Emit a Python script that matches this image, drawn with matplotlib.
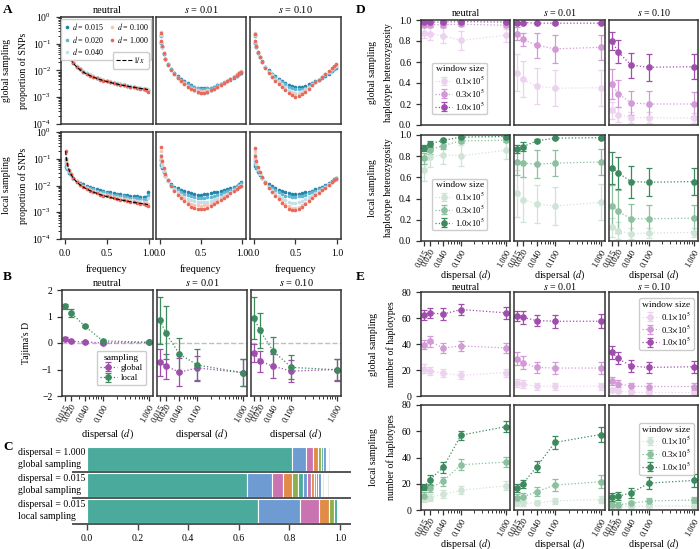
import numpy as np
import matplotlib
matplotlib.use("Agg")
import matplotlib.pyplot as plt
from matplotlib.ticker import FixedLocator, FixedFormatter, LogLocator, NullFormatter

# ---------------------------------------------------------------- data
FREQ = [0.01, 0.02, 0.03, 0.05, 0.07, 0.10, 0.14, 0.18, 0.22, 0.26, 0.30, 0.34, 0.38, 0.42, 0.46,
        0.50, 0.54, 0.58, 0.62, 0.66, 0.70, 0.74, 0.78, 0.82, 0.86, 0.90, 0.94, 0.97, 0.99]
D_LABELS_A = ["0.015", "0.020", "0.040", "0.100", "1.000"]

# global sampling, neutral
GN_0015 = [0.17, 0.094, 0.064, 0.039, 0.028, 0.0195, 0.014, 0.011, 0.0090, 0.0076, 0.0066, 0.0058, 0.0052, 0.0047, 0.0043, 0.0040, 0.0037, 0.0034, 0.0032, 0.0030, 0.0028, 0.0026, 0.0025, 0.0024, 0.0023, 0.0022, 0.0021, 0.0020, 0.0018]
GN_0020 = [0.16, 0.093, 0.065, 0.040, 0.029, 0.020, 0.0145, 0.0113, 0.0093, 0.0078, 0.0068, 0.0060, 0.0054, 0.0048, 0.0044, 0.0041, 0.0038, 0.0035, 0.0033, 0.0031, 0.0029, 0.0027, 0.0026, 0.0025, 0.0023, 0.0022, 0.0021, 0.0020, 0.0018]
GN_0040 = [0.17, 0.094, 0.066, 0.041, 0.030, 0.021, 0.015, 0.012, 0.0097, 0.0082, 0.0071, 0.0062, 0.0056, 0.0050, 0.0046, 0.0042, 0.0039, 0.0036, 0.0034, 0.0032, 0.0030, 0.0028, 0.0027, 0.0025, 0.0024, 0.0023, 0.0022, 0.0021, 0.0019]
GN_0100 = [0.18, 0.095, 0.065, 0.039, 0.028, 0.020, 0.014, 0.011, 0.0090, 0.0076, 0.0066, 0.0058, 0.0052, 0.0047, 0.0043, 0.0040, 0.0037, 0.0034, 0.0032, 0.0030, 0.0028, 0.0027, 0.0025, 0.0024, 0.0023, 0.0022, 0.0021, 0.0020, 0.0017]
GN_1000 = [0.19, 0.096, 0.064, 0.039, 0.028, 0.019, 0.014, 0.011, 0.0088, 0.0074, 0.0064, 0.0057, 0.0051, 0.0046, 0.0042, 0.0039, 0.0036, 0.0033, 0.0031, 0.0029, 0.0028, 0.0026, 0.0025, 0.0024, 0.0022, 0.0021, 0.0020, 0.0019, 0.0016]

# global sampling, s = 0.01
G1_0015 = [0.21, 0.11, 0.074, 0.043, 0.028, 0.017, 0.011, 0.0080, 0.0060, 0.0048, 0.0039, 0.0033, 0.0028, 0.0025, 0.0023, 0.0022, 0.0022, 0.0022, 0.0023, 0.0025, 0.0028, 0.0031, 0.0035, 0.0040, 0.0046, 0.0053, 0.0062, 0.0072, 0.0080]
G1_0020 = [0.20, 0.11, 0.075, 0.043, 0.028, 0.017, 0.011, 0.0078, 0.0058, 0.0046, 0.0037, 0.0031, 0.0027, 0.0024, 0.0022, 0.0021, 0.0021, 0.0022, 0.0023, 0.0025, 0.0028, 0.0032, 0.0036, 0.0041, 0.0048, 0.0056, 0.0065, 0.0075, 0.0085]
G1_0040 = [0.22, 0.12, 0.078, 0.044, 0.028, 0.016, 0.010, 0.0072, 0.0053, 0.0041, 0.0032, 0.0025, 0.0020, 0.0017, 0.0015, 0.0014, 0.0014, 0.0015, 0.0017, 0.0020, 0.0024, 0.0029, 0.0035, 0.0042, 0.0050, 0.0060, 0.0072, 0.0085, 0.0095]
G1_0100 = [0.27, 0.13, 0.080, 0.045, 0.028, 0.016, 0.0102, 0.0073, 0.0054, 0.0042, 0.0034, 0.0027, 0.0023, 0.0020, 0.0018, 0.0017, 0.0017, 0.0018, 0.0019, 0.0021, 0.0025, 0.0029, 0.0035, 0.0041, 0.0049, 0.0059, 0.0071, 0.0082, 0.0092]
G1_1000 = [0.25, 0.126, 0.079, 0.045, 0.028, 0.016, 0.010, 0.0071, 0.0052, 0.0040, 0.0032, 0.0025, 0.0021, 0.0018, 0.0016, 0.0015, 0.0015, 0.0016, 0.0018, 0.0020, 0.0024, 0.0028, 0.0034, 0.0040, 0.0048, 0.0058, 0.0070, 0.0082, 0.0090]

# global sampling, s = 0.10
G2_0015 = [0.21, 0.11, 0.075, 0.046, 0.032, 0.022, 0.014, 0.010, 0.0077, 0.0061, 0.0050, 0.0041, 0.0034, 0.0029, 0.0026, 0.0024, 0.0024, 0.0025, 0.0027, 0.0030, 0.0034, 0.0039, 0.0046, 0.0054, 0.0064, 0.0076, 0.0092, 0.011, 0.012]
G2_0020 = [0.20, 0.11, 0.075, 0.046, 0.031, 0.021, 0.0135, 0.0095, 0.0072, 0.0056, 0.0045, 0.0036, 0.0030, 0.0025, 0.0022, 0.0020, 0.0020, 0.0021, 0.0023, 0.0027, 0.0032, 0.0038, 0.0046, 0.0055, 0.0066, 0.0080, 0.0097, 0.0115, 0.013]
G2_0040 = [0.22, 0.12, 0.080, 0.048, 0.032, 0.021, 0.013, 0.0090, 0.0066, 0.0050, 0.0039, 0.0030, 0.0024, 0.0019, 0.0016, 0.0015, 0.0015, 0.0017, 0.0020, 0.0024, 0.0030, 0.0037, 0.0046, 0.0057, 0.0071, 0.0088, 0.011, 0.013, 0.015]
G2_0100 = [0.25, 0.13, 0.085, 0.050, 0.033, 0.021, 0.0127, 0.0086, 0.0061, 0.0045, 0.0034, 0.0026, 0.0020, 0.0016, 0.0014, 0.0013, 0.0013, 0.0015, 0.0018, 0.0022, 0.0029, 0.0036, 0.0046, 0.0058, 0.0074, 0.0093, 0.0115, 0.014, 0.016]
G2_1000 = [0.24, 0.13, 0.085, 0.050, 0.033, 0.021, 0.0125, 0.0083, 0.0058, 0.0042, 0.0031, 0.0024, 0.0018, 0.0014, 0.0012, 0.0010, 0.0011, 0.0013, 0.0016, 0.0021, 0.0028, 0.0036, 0.0046, 0.0058, 0.0075, 0.0095, 0.012, 0.015, 0.017]

# local sampling, neutral
LN_0015 = [0.07, 0.05, 0.04, 0.030, 0.024, 0.019, 0.015, 0.0125, 0.011, 0.0098, 0.0088, 0.0080, 0.0073, 0.0067, 0.0062, 0.0058, 0.0055, 0.0052, 0.0049, 0.0047, 0.0045, 0.0043, 0.0042, 0.0040, 0.0039, 0.0038, 0.0037, 0.0038, 0.0058]
LN_0020 = [0.08, 0.055, 0.043, 0.031, 0.024, 0.018, 0.014, 0.0115, 0.0098, 0.0087, 0.0078, 0.0071, 0.0064, 0.0059, 0.0055, 0.0051, 0.0048, 0.0045, 0.0043, 0.0041, 0.0039, 0.0037, 0.0035, 0.0034, 0.0033, 0.0032, 0.0031, 0.0031, 0.0045]
LN_0040 = [0.11, 0.07, 0.05, 0.034, 0.025, 0.018, 0.0135, 0.0108, 0.0090, 0.0078, 0.0069, 0.0062, 0.0056, 0.0051, 0.0047, 0.0044, 0.0041, 0.0038, 0.0036, 0.0034, 0.0032, 0.0031, 0.0029, 0.0028, 0.0027, 0.0026, 0.0025, 0.0025, 0.0033]
LN_0100 = [0.17, 0.09, 0.062, 0.038, 0.028, 0.0198, 0.0143, 0.0113, 0.0094, 0.0080, 0.0070, 0.0062, 0.0056, 0.0050, 0.0046, 0.0043, 0.0039, 0.0036, 0.0034, 0.0032, 0.0030, 0.0028, 0.0027, 0.0026, 0.0024, 0.0023, 0.0023, 0.0022, 0.0021]
LN_1000 = [0.19, 0.096, 0.064, 0.0386, 0.0276, 0.0193, 0.0138, 0.0107, 0.0088, 0.0074, 0.0064, 0.0057, 0.0051, 0.0046, 0.0042, 0.0039, 0.0036, 0.0033, 0.0031, 0.0029, 0.0028, 0.0026, 0.0025, 0.0024, 0.0022, 0.0021, 0.0021, 0.0019, 0.0017]

# local sampling, s = 0.01
L1_0015 = [0.09, 0.06, 0.045, 0.031, 0.023, 0.0155, 0.011, 0.0090, 0.0078, 0.0068, 0.0061, 0.0055, 0.0051, 0.0048, 0.0046, 0.0046, 0.0047, 0.0049, 0.0052, 0.0055, 0.0058, 0.0062, 0.0066, 0.0071, 0.0078, 0.0087, 0.0100, 0.0115, 0.0134]
L1_0020 = [0.10, 0.065, 0.048, 0.031, 0.022, 0.015, 0.0102, 0.0080, 0.0066, 0.0056, 0.0049, 0.0043, 0.0039, 0.0036, 0.0035, 0.0034, 0.0035, 0.0036, 0.0038, 0.0041, 0.0045, 0.0050, 0.0055, 0.0061, 0.0069, 0.0079, 0.0092, 0.0107, 0.012]
L1_0040 = [0.14, 0.08, 0.055, 0.034, 0.023, 0.015, 0.0098, 0.0073, 0.0057, 0.0046, 0.0038, 0.0032, 0.0028, 0.0026, 0.0024, 0.0024, 0.0024, 0.0025, 0.0027, 0.0030, 0.0034, 0.0038, 0.0043, 0.0050, 0.0058, 0.0068, 0.0081, 0.0095, 0.0108]
L1_0100 = [0.20, 0.10, 0.065, 0.038, 0.025, 0.0155, 0.0097, 0.0069, 0.0051, 0.0039, 0.0031, 0.0025, 0.0021, 0.0019, 0.0018, 0.0017, 0.0018, 0.0019, 0.0021, 0.0024, 0.0028, 0.0033, 0.0039, 0.0046, 0.0054, 0.0064, 0.0077, 0.0090, 0.010]
L1_1000 = [0.27, 0.13, 0.08, 0.044, 0.027, 0.0155, 0.0094, 0.0064, 0.0046, 0.0034, 0.0026, 0.0020, 0.0016, 0.0014, 0.0013, 0.0013, 0.0013, 0.0015, 0.0017, 0.0020, 0.0024, 0.0029, 0.0035, 0.0042, 0.0051, 0.0062, 0.0076, 0.0090, 0.010]

# local sampling, s = 0.10
L2_0015 = [0.08, 0.055, 0.045, 0.033, 0.025, 0.019, 0.014, 0.011, 0.0092, 0.0079, 0.0069, 0.0061, 0.0055, 0.0051, 0.0049, 0.0049, 0.0050, 0.0052, 0.0055, 0.0059, 0.0064, 0.0071, 0.0079, 0.0089, 0.0102, 0.012, 0.0145, 0.017, 0.019]
L2_0020 = [0.10, 0.065, 0.05, 0.035, 0.026, 0.019, 0.0133, 0.0100, 0.0080, 0.0066, 0.0055, 0.0047, 0.0042, 0.0039, 0.0038, 0.0038, 0.0040, 0.0042, 0.0046, 0.0051, 0.0057, 0.0064, 0.0073, 0.0084, 0.0098, 0.0115, 0.014, 0.0165, 0.0185]
L2_0040 = [0.15, 0.085, 0.062, 0.040, 0.028, 0.019, 0.0125, 0.0090, 0.0068, 0.0053, 0.0042, 0.0034, 0.0028, 0.0025, 0.0023, 0.0023, 0.0024, 0.0027, 0.0031, 0.0036, 0.0043, 0.0051, 0.0061, 0.0073, 0.0089, 0.011, 0.0135, 0.016, 0.018]
L2_0100 = [0.20, 0.11, 0.075, 0.045, 0.031, 0.0195, 0.0122, 0.0084, 0.0060, 0.0045, 0.0034, 0.0026, 0.0020, 0.0017, 0.0015, 0.0015, 0.0016, 0.0019, 0.0023, 0.0029, 0.0036, 0.0045, 0.0056, 0.0068, 0.0084, 0.0104, 0.013, 0.0155, 0.0175]
L2_1000 = [0.25, 0.13, 0.085, 0.050, 0.033, 0.0205, 0.0123, 0.0083, 0.0058, 0.0042, 0.0031, 0.0023, 0.0017, 0.0013, 0.0012, 0.0012, 0.0013, 0.0016, 0.0020, 0.0026, 0.0034, 0.0043, 0.0054, 0.0067, 0.0083, 0.0103, 0.013, 0.0155, 0.0175]

ONE_OVER_X_SCALE = 0.00193   # normalisation of the 1/x reference curve

# dispersal axis
DISP = [0.015, 0.020, 0.040, 0.100, 1.000]
DISP_LABELS = ["0.015", "0.020", "0.040", "0.100", "1.000"]
SEL_TITLES = ["neutral", "$s$ = 0.01", "$s$ = 0.10"]

# Tajima's D (B)
TAJ_GLOBAL_NEUTRAL = [0.16, 0.06, 0.04, 0.00, 0.02]
TAJ_GLOBAL_NEUTRAL_ERR = [0.05, 0.03, 0.05, 0.03, 0.03]
TAJ_LOCAL_NEUTRAL = [1.38, 1.15, 0.64, 0.08, 0.03]
TAJ_LOCAL_NEUTRAL_ERR = [0.08, 0.15, 0.05, 0.05, 0.03]
TAJ_GLOBAL_S001 = [-0.73, -0.87, -1.10, -0.94, -1.12]
TAJ_GLOBAL_S001_ERR = [0.50, 0.47, 0.52, 0.45, 0.50]
TAJ_LOCAL_S001 = [0.85, 0.38, -0.42, -0.83, -1.12]
TAJ_LOCAL_S001_ERR = [0.90, 1.00, 0.62, 0.60, 0.52]
TAJ_GLOBAL_S010 = [-0.38, -0.69, -0.88, -1.06, -1.00]
TAJ_GLOBAL_S010_ERR = [0.35, 0.40, 0.45, 0.40, 0.40]
TAJ_LOCAL_S010 = [0.94, 0.48, -0.32, -0.92, -1.01]
TAJ_LOCAL_S010_ERR = [0.78, 0.65, 0.55, 0.45, 0.42]

# window sizes
WINDOW_LABELS = [r"0.1$\times$10$^5$", r"0.3$\times$10$^5$", r"1.0$\times$10$^5$"]

# haplotype heterozygosity (D): rows = window 0.1, 0.3, 1.0 (x10^5)
HET_GLOBAL_NEUTRAL = [[0.88, 0.87, 0.85, 0.805, 0.855], [0.955, 0.955, 0.955, 0.96, 0.95], [0.98, 0.98, 0.98, 0.985, 0.98]]
HET_GLOBAL_NEUTRAL_ERR = [[0.05, 0.06, 0.07, 0.09, 0.06], [0.02, 0.02, 0.02, 0.02, 0.02], [0.01, 0.01, 0.01, 0.01, 0.01]]
HET_GLOBAL_S001 = [[0.50, 0.435, 0.37, 0.35, 0.355], [0.87, 0.815, 0.76, 0.725, 0.74], [0.975, 0.975, 0.97, 0.97, 0.97]]
HET_GLOBAL_S001_ERR = [[0.18, 0.17, 0.17, 0.17, 0.17], [0.06, 0.06, 0.12, 0.13, 0.12], [0.01, 0.01, 0.01, 0.01, 0.01]]
HET_GLOBAL_S010 = [[0.14, 0.10, 0.07, 0.07, 0.065], [0.39, 0.30, 0.21, 0.20, 0.20], [0.80, 0.70, 0.57, 0.55, 0.555]]
HET_GLOBAL_S010_ERR = [[0.08, 0.07, 0.05, 0.05, 0.05], [0.14, 0.13, 0.11, 0.12, 0.11], [0.09, 0.11, 0.12, 0.13, 0.12]]
HET_LOCAL_NEUTRAL = [[0.67, 0.79, 0.815, 0.805, 0.855], [0.78, 0.86, 0.90, 0.945, 0.95], [0.875, 0.915, 0.95, 0.98, 0.985]]
HET_LOCAL_NEUTRAL_ERR = [[0.10, 0.09, 0.09, 0.10, 0.08], [0.05, 0.04, 0.03, 0.02, 0.02], [0.03, 0.03, 0.015, 0.01, 0.01]]
HET_LOCAL_S001 = [[0.45, 0.39, 0.35, 0.33, 0.365], [0.745, 0.735, 0.725, 0.735, 0.745], [0.87, 0.89, 0.945, 0.97, 0.975]]
HET_LOCAL_S001_ERR = [[0.22, 0.21, 0.18, 0.18, 0.17], [0.12, 0.13, 0.13, 0.12, 0.12], [0.04, 0.04, 0.015, 0.01, 0.01]]
HET_LOCAL_S010 = [[0.13, 0.095, 0.07, 0.075, 0.08], [0.33, 0.28, 0.21, 0.21, 0.215], [0.69, 0.645, 0.56, 0.555, 0.56]]
HET_LOCAL_S010_ERR = [[0.09, 0.08, 0.05, 0.05, 0.04], [0.20, 0.20, 0.14, 0.13, 0.12], [0.15, 0.15, 0.15, 0.13, 0.13]]

# number of haplotypes (E)
NH_GLOBAL_NEUTRAL = [[21, 19.5, 17.5, 16, 18], [39.5, 42, 37, 38.5, 37], [62.5, 64, 63, 66.5, 64]]
NH_GLOBAL_NEUTRAL_ERR = [[3.5, 3, 3, 3, 3], [3.5, 4, 4, 4, 4], [4, 4, 4.5, 4, 4.5]]
NH_GLOBAL_S001 = [[10, 9, 7.5, 7.5, 7.5], [28.5, 25.5, 22, 21.5, 21.5], [61.5, 60.5, 58, 57.5, 57.5]]
NH_GLOBAL_S001_ERR = [[3, 3, 2.5, 2.5, 2.5], [5, 5, 4.5, 4.5, 4.5], [4, 5, 4.5, 5, 5.5]]
NH_GLOBAL_S010 = [[4.3, 3.8, 2.8, 2.7, 2.6], [11.5, 9.5, 7.5, 7.3, 7.3], [33.5, 29, 23, 22, 22.5]]
NH_GLOBAL_S010_ERR = [[1.5, 1.5, 1.2, 1.2, 1.2], [3, 2.5, 2.5, 2.5, 2.5], [5, 4.5, 4.5, 4.5, 4.5]]
NH_LOCAL_NEUTRAL = [[8.5, 9.5, 12, 15, 18.5], [11, 16.5, 22, 34.5, 36.5], [17.5, 23, 32.5, 57, 63.5]]
NH_LOCAL_NEUTRAL_ERR = [[2.5, 3, 3, 3, 3.5], [2.5, 3, 3.5, 4, 4], [2.5, 4, 4, 3.5, 4]]
NH_LOCAL_S001 = [[5, 5, 5.5, 7, 8], [9.5, 10, 14, 19, 21.5], [16.5, 20, 33, 51.5, 57.5]]
NH_LOCAL_S001_ERR = [[2, 2, 2, 2.5, 2.5], [3, 3, 3.5, 4.5, 5], [3, 3, 4, 5, 6]]
NH_LOCAL_S010 = [[2.5, 2.5, 2.8, 3, 3], [4, 4, 5, 7, 7.5], [10, 10.5, 13, 20.5, 22.5]]
NH_LOCAL_S010_ERR = [[1, 1, 1, 1, 1], [2, 2, 2, 2.5, 2.5], [3, 3, 3.5, 4.5, 5]]

# haplotype frequency spectrum (C)
C_ROW_LABELS = ["dispersal = 1.000\nglobal sampling",
                "dispersal = 0.015\nglobal sampling",
                "dispersal = 0.015\nlocal sampling"]
C_ROW1 = [0.809, 0.058, 0.028, 0.017, 0.013, 0.009, 0.011,
          0.005, 0.005, 0.004, 0.004, 0.004, 0.004, 0.003, 0.003, 0.003]
C_ROW2 = [0.632, 0.098, 0.046, 0.034, 0.024, 0.020, 0.016, 0.015, 0.012, 0.009, 0.008, 0.010,
          0.006, 0.006, 0.005, 0.005, 0.005, 0.005, 0.004, 0.004, 0.004, 0.004, 0.004, 0.004, 0.004, 0.003]
C_ROW3 = [0.675, 0.167, 0.075, 0.039, 0.020, 0.011]
C_ROW_NCOLORED = [7, 12, 6]
C_TICKS = [0.0, 0.2, 0.4, 0.6, 0.8, 1.0]

# ---------------------------------------------------------------- style
plt.rcParams.update({
    "font.family": ["Liberation Serif", "DejaVu Serif"],
    "mathtext.fontset": "stix",
    "font.size": 7,
    "axes.edgecolor": "#333333",
    "axes.linewidth": 1.1,
    "xtick.color": "#333333",
    "ytick.color": "#333333",
    "xtick.labelcolor": "black",
    "ytick.labelcolor": "black",
    "xtick.labelsize": 7,
    "ytick.labelsize": 7,
    "xtick.major.size": 3.5,
    "ytick.major.size": 3.5,
    "xtick.minor.size": 2,
    "ytick.minor.size": 2,
    "xtick.major.width": 0.9,
    "ytick.major.width": 0.9,
    "xtick.minor.width": 0.7,
    "ytick.minor.width": 0.7,
    "legend.fontsize": 6.5,
})

SFS_COLORS = ["#2283a8", "#5eb6d3", "#bfe1eb", "#f8c6b9", "#e8685a"]
PURPLES = ["#ecd2ee", "#d29ad6", "#a04eae"]
GREENS = ["#cfe4d7", "#8cc09f", "#3d8a5f"]
B_PURPLE = "#a04eae"
B_GREEN = "#3d8a5f"
C_PALETTE = ["#4aab9c", "#6e9bd2", "#c974b1", "#e08c48", "#8bb14b"]
C_GRAY = "#e4e4e4"

W, H = 700.0, 549.0
fig = plt.figure(figsize=(7.0, 5.49), dpi=100)


def px_axes(x0, y0, x1, y1):
    return fig.add_axes([x0 / W, 1 - y1 / H, (x1 - x0) / W, (y1 - y0) / H])


def setup_disp_x(ax, labels):
    ax.set_xscale("log")
    ax.xaxis.set_major_locator(FixedLocator(DISP))
    ax.xaxis.set_major_formatter(FixedFormatter(DISP_LABELS))
    ax.xaxis.set_minor_locator(LogLocator(base=10, subs=np.arange(2, 10) * 1.0, numticks=20))
    ax.xaxis.set_minor_formatter(NullFormatter())
    ax.set_xlim(0.0128, 1.24)
    if labels:
        ax.tick_params(axis="x", which="major", labelsize=6.0, pad=1.5)
        for lab in ax.get_xticklabels():
            lab.set_rotation(60)
            lab.set_ha("right")
            lab.set_rotation_mode("anchor")
        ax.set_xlabel("dispersal ($d$)", fontsize=7.2, labelpad=0)
    else:
        ax.tick_params(axis="x", which="both", bottom=False, labelbottom=False)


def eb(ax, y, e, color, label=None):
    ax.errorbar(DISP, y, yerr=e, fmt="o:", color=color, lw=0.9, ms=3.8, capsize=2,
                elinewidth=0.9, capthick=0.9, label=label)


# ---------------------------------------------------------------- panel A
COLS_L = [(61, 153), (156, 246), (250, 341)]
A_ROWS = [(17, 124), (132, 239)]
SFS_PANELS = [
    [[GN_0015, GN_0020, GN_0040, GN_0100, GN_1000],
     [G1_0015, G1_0020, G1_0040, G1_0100, G1_1000],
     [G2_0015, G2_0020, G2_0040, G2_0100, G2_1000]],
    [[LN_0015, LN_0020, LN_0040, LN_0100, LN_1000],
     [L1_0015, L1_0020, L1_0040, L1_0100, L1_1000],
     [L2_0015, L2_0020, L2_0040, L2_0100, L2_1000]],
]
A_YLABELS = ["global sampling\nproportion of SNPs", "local sampling\nproportion of SNPs"]
xline = np.linspace(0.01, 0.99, 200)
for r, (y0, y1) in enumerate(A_ROWS):
    for c, (x0, x1) in enumerate(COLS_L):
        ax = px_axes(x0, y0, x1, y1)
        ax.set_yscale("log")
        for k, series in enumerate(SFS_PANELS[r][c]):
            ax.plot(FREQ, series, "o", ms=2.6, mec="none", color=SFS_COLORS[k],
                    label="$d$ = " + D_LABELS_A[k])
        if c == 0:
            ax.plot(xline, ONE_OVER_X_SCALE / xline, "--", color="black", lw=0.8, label="$1/x$")
        ax.set_ylim(1e-4, 1.0)
        ax.set_xlim(-0.045, 1.05)
        if c == 0:
            ax.set_ylabel(A_YLABELS[r], fontsize=7, linespacing=2.0, labelpad=3)
        else:
            ax.tick_params(axis="y", which="both", left=False, labelleft=False)
        if r == 0:
            ax.set_title(SEL_TITLES[c], fontsize=7.5, pad=3)
            ax.tick_params(axis="x", which="both", bottom=False, labelbottom=False)
        else:
            ax.set_xticks([0.0, 0.5, 1.0])
            ax.set_xticklabels(["0.0", "0.5", "1.0"])
            ax.set_xlabel("frequency", fontsize=7.5, labelpad=5)
        if r == 0 and c == 0:
            h, l = ax.get_legend_handles_labels()
            leg1 = ax.legend(h[:5], l[:5], ncol=2, loc="upper right", fontsize=5.8,
                             handletextpad=0.1, columnspacing=0.5, borderpad=0.3,
                             labelspacing=0.2, handlelength=1.0, markerscale=1.0,
                             framealpha=1, edgecolor="#cccccc", borderaxespad=0.2)
            ax.add_artist(leg1)
            ax.legend(h[5:], l[5:], loc="upper right", bbox_to_anchor=(0.995, 0.71), fontsize=5.8,
                      handlelength=2.0, handletextpad=0.2, borderpad=0.4,
                      framealpha=1, edgecolor="#cccccc")

# ---------------------------------------------------------------- panel B
B_ROW = (290, 396)
B_DATA = [
    (TAJ_GLOBAL_NEUTRAL, TAJ_GLOBAL_NEUTRAL_ERR, TAJ_LOCAL_NEUTRAL, TAJ_LOCAL_NEUTRAL_ERR),
    (TAJ_GLOBAL_S001, TAJ_GLOBAL_S001_ERR, TAJ_LOCAL_S001, TAJ_LOCAL_S001_ERR),
    (TAJ_GLOBAL_S010, TAJ_GLOBAL_S010_ERR, TAJ_LOCAL_S010, TAJ_LOCAL_S010_ERR),
]
COLS_B = [(62, 153), (157, 247), (251, 341)]
for c, (x0, x1) in enumerate(COLS_B):
    ax = px_axes(x0, B_ROW[0], x1, B_ROW[1])
    ax.axhline(0, color="#c0c0c0", ls="--", lw=1.0, zorder=0)
    g, ge, l_, le = B_DATA[c]
    eb(ax, g, ge, B_PURPLE, "global")
    eb(ax, l_, le, B_GREEN, "local")
    setup_disp_x(ax, True)
    ax.xaxis.label.set_size(7.5)
    ax.xaxis.labelpad = 3
    ax.set_ylim(-2, 2)
    ax.set_yticks([-2, -1, 0, 1, 2])
    ax.set_title(SEL_TITLES[c], fontsize=7.5, pad=3)
    if c == 0:
        ax.set_ylabel("Tajima's D", fontsize=7, labelpad=8)
        ax.legend(title="sampling", loc="lower right", bbox_to_anchor=(0.97, 0.06), fontsize=6.3,
                  title_fontsize=6.8, framealpha=1, edgecolor="#cccccc", handlelength=2.0,
                  borderpad=0.35, labelspacing=0.25, handletextpad=0.4)
    else:
        ax.tick_params(axis="y", which="both", left=False, labelleft=False)

# ---------------------------------------------------------------- panel C
C_ROWS = [(447, 472), (473, 498), (499, 524)]
C_DATA = [C_ROW1, C_ROW2, C_ROW3]
for r, (y0, y1) in enumerate(C_ROWS):
    ax = px_axes(73, y0, 350, y1)
    widths = C_DATA[r]
    lefts = np.concatenate([[0.0], np.cumsum(widths)[:-1]])
    colors = [C_PALETTE[i % 5] if i < C_ROW_NCOLORED[r] else C_GRAY for i in range(len(widths))]
    ax.barh(np.zeros(len(widths)), widths, left=lefts, height=0.9, color=colors,
            edgecolor="white", linewidth=0.8)
    ax.set_ylim(-0.5, 0.46)
    ax.set_xlim(-0.055, 1.04)
    for s in ("top", "right", "left"):
        ax.spines[s].set_visible(False)
    ax.spines["bottom"].set_color("#555555")
    ax.spines["bottom"].set_linewidth(1.4)
    ax.set_yticks([])
    ax.set_xticks(C_TICKS)
    ax.tick_params(axis="x", length=4, width=1.0, color="#444444")
    if r == 2:
        ax.set_xticklabels(["%.1f" % t for t in C_TICKS])
    else:
        ax.tick_params(axis="x", labelbottom=False)
    fig.text(18 / W, 1 - ((y0 + y1) / 2 - 1) / H, C_ROW_LABELS[r], ha="left", va="center",
             fontsize=7, linespacing=1.35)

# ---------------------------------------------------------------- panels D and E
COLS_R = [(421, 510), (514, 605), (609, 698)]
D_ROWS = [(20, 125), (135, 241)]
E_ROWS = [(292, 396), (405, 510)]
HET = [[HET_GLOBAL_NEUTRAL, HET_GLOBAL_S001, HET_GLOBAL_S010],
       [HET_LOCAL_NEUTRAL, HET_LOCAL_S001, HET_LOCAL_S010]]
HET_ERR = [[HET_GLOBAL_NEUTRAL_ERR, HET_GLOBAL_S001_ERR, HET_GLOBAL_S010_ERR],
           [HET_LOCAL_NEUTRAL_ERR, HET_LOCAL_S001_ERR, HET_LOCAL_S010_ERR]]
NH = [[NH_GLOBAL_NEUTRAL, NH_GLOBAL_S001, NH_GLOBAL_S010],
      [NH_LOCAL_NEUTRAL, NH_LOCAL_S001, NH_LOCAL_S010]]
NH_ERR = [[NH_GLOBAL_NEUTRAL_ERR, NH_GLOBAL_S001_ERR, NH_GLOBAL_S010_ERR],
          [NH_LOCAL_NEUTRAL_ERR, NH_LOCAL_S001_ERR, NH_LOCAL_S010_ERR]]
SAMPLING = ["global sampling", "local sampling"]

for panel, rows, data, errs, ylab, ylim, yticks, ytl in [
        ("D", D_ROWS, HET, HET_ERR, "haplotype heterozygosity", (0, 1.0),
         [0, 0.2, 0.4, 0.6, 0.8, 1.0], ["0.0", "0.2", "0.4", "0.6", "0.8", "1.0"]),
        ("E", E_ROWS, NH, NH_ERR, "number of haplotypes", (0, 80),
         [0, 20, 40, 60, 80], ["0", "20", "40", "60", "80"])]:
    for r, (y0, y1) in enumerate(rows):
        cmap = PURPLES if r == 0 else GREENS
        for c, (x0, x1) in enumerate(COLS_R):
            ax = px_axes(x0, y0, x1, y1)
            for w in range(3):
                eb(ax, data[r][c][w], errs[r][c][w], cmap[w], WINDOW_LABELS[w])
            setup_disp_x(ax, r == 1)
            ax.set_ylim(*ylim)
            ax.set_yticks(yticks)
            ax.set_yticklabels(ytl)
            if r == 0:
                ax.set_title(SEL_TITLES[c], fontsize=7.2, pad=3 if panel == "D" else 0.8)
            if c == 0:
                ax.set_ylabel(SAMPLING[r] + "\n" + ylab, fontsize=7, linespacing=2.0, labelpad=4)
            else:
                ax.tick_params(axis="y", which="both", left=False, labelleft=False)
            legkw = dict(title="window size", fontsize=6.2, title_fontsize=6.8, framealpha=1,
                         edgecolor="#cccccc", handlelength=2.0, borderpad=0.3,
                         labelspacing=0.15, handletextpad=0.3)
            if panel == "D" and c == 0:
                ax.legend(loc="lower left", bbox_to_anchor=(0.08, 0.06), **legkw)
            if panel == "E" and c == 2:
                if r == 0:
                    ax.legend(loc="upper right", bbox_to_anchor=(1.0, 0.98), **legkw)
                else:
                    ax.legend(loc="upper right", bbox_to_anchor=(1.0, 0.87), **legkw)

# ---------------------------------------------------------------- panel letters
for letter, (x, y) in {"A": (3, 10), "B": (3, 277), "C": (3, 447),
                       "D": (356, 10), "E": (356, 277)}.items():
    fig.text(x / W, 1 - y / H, letter, fontsize=9.5, fontweight="bold", va="center", ha="left")

fig.savefig("out.png", dpi=100)
